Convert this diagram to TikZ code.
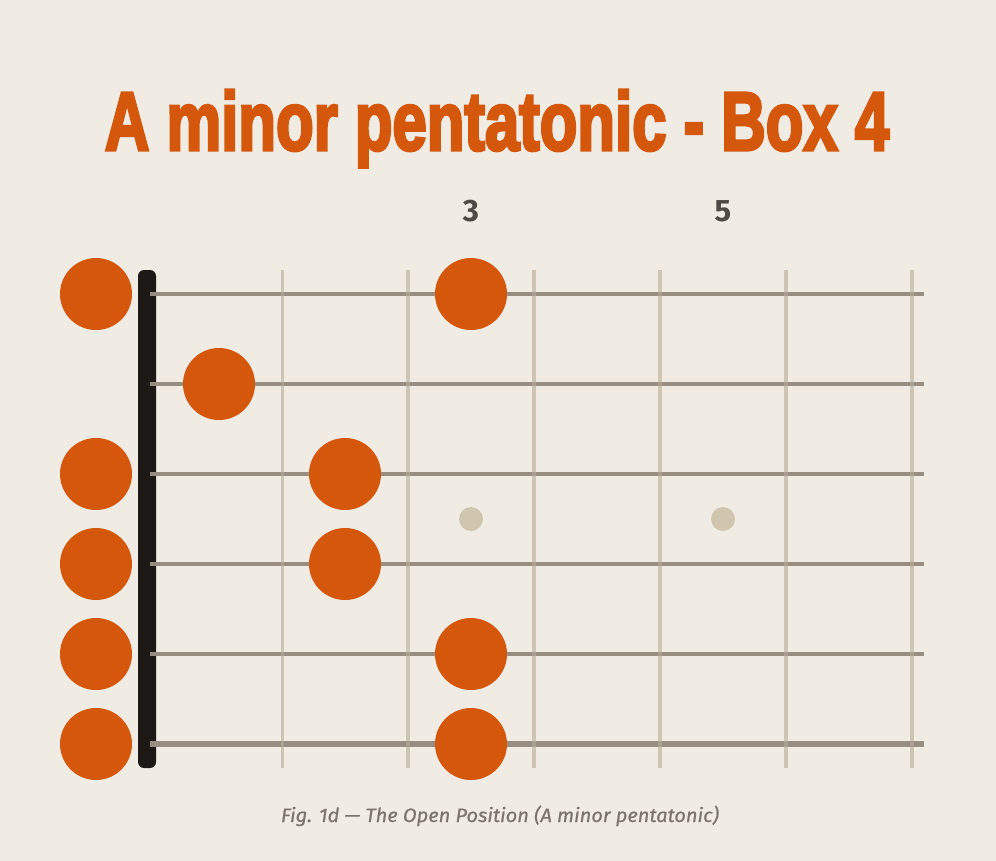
\documentclass[tikz,border=0pt]{standalone}
\usepackage{fontspec}
\setmainfont{Fira Sans}
\newfontfamily\headfont[FakeBold=4]{Liberation Sans}
\newfontfamily\capfont[FakeBold=0.6]{Fira Sans}
\definecolor{paper}{HTML}{F0EBE3}
\definecolor{rust}{HTML}{D4570B}
\definecolor{nutblack}{HTML}{1C1916}
\definecolor{stringgray}{HTML}{988D81}
\definecolor{fretwood}{HTML}{B8AA94}
\definecolor{inlaytan}{HTML}{D0C5AE}
\definecolor{labelgray}{HTML}{4F4A44}
\definecolor{capgray}{HTML}{7B746C}
\begin{document}
\begin{tikzpicture}[x=1pt,y=-1pt,
  note/.style={circle,fill=rust,minimum size=72pt,inner sep=0pt},
  inlay/.style={circle,fill=inlaytan,minimum size=24pt,inner sep=0pt},
  fretline/.style={fretwood,opacity=0.6,line width=3.5pt},
  gtrstring/.style={stringgray,line cap=butt}]
\fill[paper] (0,0) rectangle (996,861);
\useasboundingbox (0,0) rectangle (996,861);
\node[text=rust,anchor=base,inner sep=0pt] (title) at (497,150) {\resizebox{784pt}{60pt}{\headfont\bfseries A minor pentatonic - Box 4}};
\node[text=labelgray,anchor=base,inner sep=0pt,font=\fontsize{31}{31}\selectfont\bfseries] (fret3) at (471,222) {3};
\node[text=labelgray,anchor=base,inner sep=0pt,font=\fontsize{31}{31}\selectfont\bfseries] (fret5) at (723,222) {5};
\fill[nutblack,rounded corners=6pt] (138,270) rectangle (156,768);
\draw[gtrstring,line width=3.2pt] (150,294) -- (924,294);
\draw[gtrstring,line width=3.6pt] (150,384) -- (924,384);
\draw[gtrstring,line width=4pt] (150,474) -- (924,474);
\draw[gtrstring,line width=4.3pt] (150,564) -- (924,564);
\draw[gtrstring,line width=4.6pt] (150,654) -- (924,654);
\draw[gtrstring,line width=5.2pt] (150,744) -- (924,744);
\draw[fretline] (282.3,270) -- (282.3,768);
\draw[fretline] (408.2,270) -- (408.2,768);
\draw[fretline] (534.1,270) -- (534.1,768);
\draw[fretline] (660,270) -- (660,768);
\draw[fretline] (785.9,270) -- (785.9,768);
\draw[fretline] (911.8,270) -- (911.8,768);
\node[inlay] (inlay3) at (471,519) {};
\node[inlay] (inlay5) at (723,519) {};
\node[note] (open1) at (96,294) {};
\node[note] (open3) at (96,474) {};
\node[note] (open4) at (96,564) {};
\node[note] (open5) at (96,654) {};
\node[note] (open6) at (96,744) {};
\node[note] (fretA2) at (219,384) {};
\node[note] (fretB3) at (345,474) {};
\node[note] (fretB4) at (345,564) {};
\node[note] (fretC1) at (471,294) {};
\node[note] (fretC5) at (471,654) {};
\node[note] (fretC6) at (471,744) {};
\node[text=capgray,anchor=base,inner sep=0pt] (caption) at (500,822) {\resizebox{438pt}{16.5pt}{\capfont\itshape Fig. 1d — The Open Position (A minor pentatonic)}};
\end{tikzpicture}
\end{document}
